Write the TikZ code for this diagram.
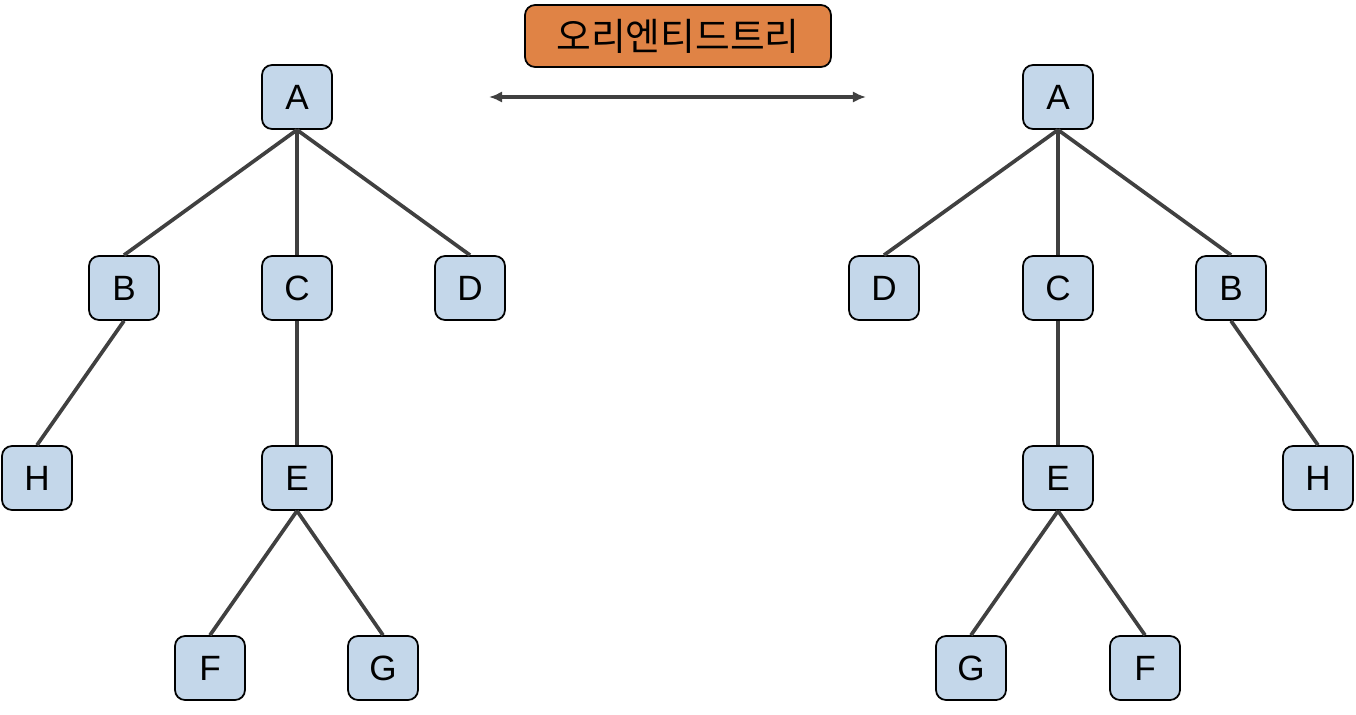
\documentclass[tikz,border=0pt]{standalone}
\usepackage{fontspec}
\setmainfont{Liberation Sans}
\newfontfamily\krfont{Noto Sans CJK KR}
\usetikzlibrary{arrows.meta}

\definecolor{nodeblue}{RGB}{196,215,234}
\definecolor{titleorange}{RGB}{224,131,69}
\definecolor{edgegray}{RGB}{64,64,64}

\tikzset{
  tnode/.style={draw=black, line width=1pt, fill=nodeblue, rounded corners=0.2cm,
    minimum width=1.4cm, minimum height=1.28cm, inner sep=0pt,
    font=\fontsize{20}{22}\selectfont},
  titlebox/.style={draw=black, line width=1pt, fill=titleorange, rounded corners=0.2cm,
    minimum width=6.12cm, minimum height=1.24cm, inner sep=0pt,
    font=\krfont\fontsize{21.5}{24}\selectfont},
  edge/.style={draw=edgegray, line width=2.1pt}
}

\begin{document}
\begin{tikzpicture}[x=0.02cm,y=-0.02cm]
\useasboundingbox (0,0) rectangle (1356,714);

% title and arrow
\node[titlebox] (title) at (678,36) {오리엔티드트리};
\coordinate (arrL) at (489,97);
\coordinate (arrR) at (866,97);
\draw[edgegray, line width=2.1pt, {Latex[length=7.5pt,width=6.5pt]}-{Latex[length=7.5pt,width=6.5pt]}] (arrL) -- (arrR);

% left tree
\node[tnode] (lA) at (297,97) {A};
\node[tnode] (lB) at (124,288) {B};
\node[tnode] (lC) at (297,288) {C};
\node[tnode] (lD) at (470,288) {D};
\node[tnode] (lH) at (37,478) {H};
\node[tnode] (lE) at (297,478) {E};
\node[tnode] (lF) at (210,668) {F};
\node[tnode] (lG) at (383,668) {G};

\foreach \p/\c in {lA/lB,lA/lC,lA/lD,lB/lH,lC/lE,lE/lF,lE/lG}
  \draw[edge] (\p.south) -- (\c.north);

% right tree
\node[tnode] (rA) at (1058,97) {A};
\node[tnode] (rD) at (884,288) {D};
\node[tnode] (rC) at (1058,288) {C};
\node[tnode] (rB) at (1231,288) {B};
\node[tnode] (rE) at (1058,478) {E};
\node[tnode] (rH) at (1318,478) {H};
\node[tnode] (rG) at (971,668) {G};
\node[tnode] (rF) at (1145,668) {F};

\foreach \p/\c in {rA/rD,rA/rC,rA/rB,rB/rH,rC/rE,rE/rG,rE/rF}
  \draw[edge] (\p.south) -- (\c.north);
\end{tikzpicture}
\end{document}
